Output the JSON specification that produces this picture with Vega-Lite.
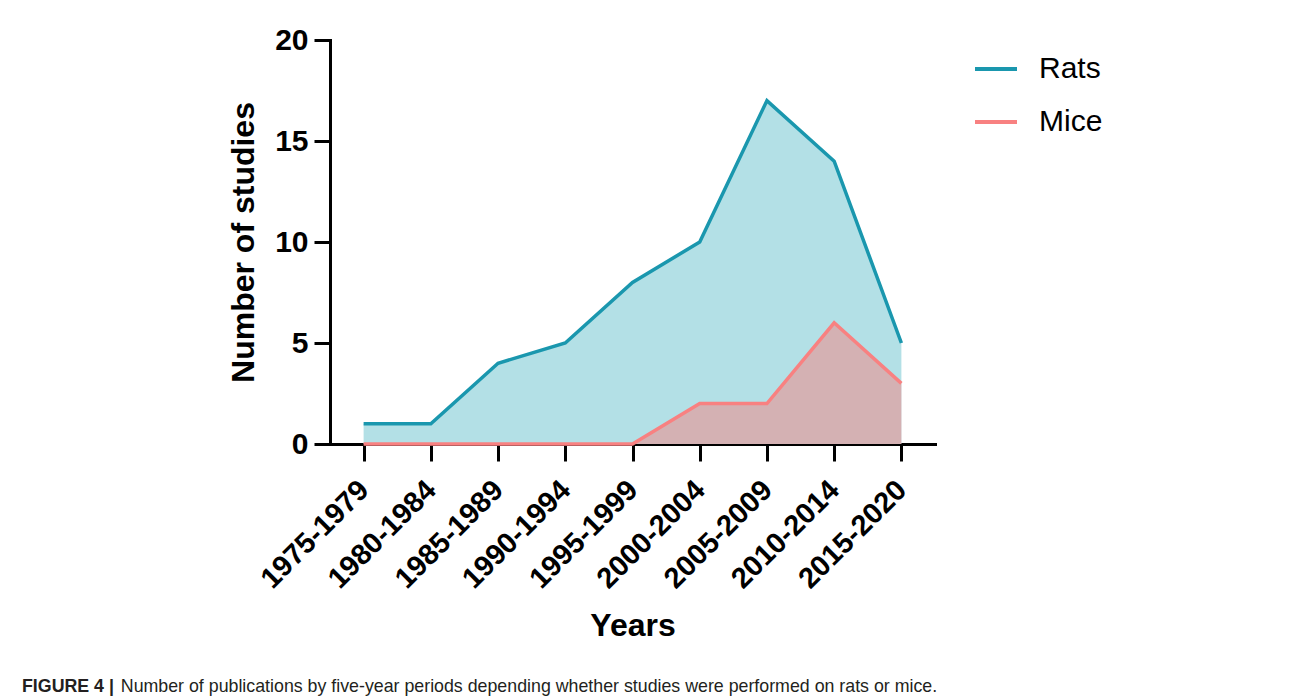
{
  "$schema": "https://vega.github.io/schema/vega-lite/v6.json",
  "width": 605,
  "height": 404,
  "autosize": "none",
  "padding": {"left": 330, "top": 40, "right": 381, "bottom": 255},
  "background": "white",
  "data": {
    "values": [
      {"period": "1975-1979", "species": "Rats", "count": 1},
      {"period": "1980-1984", "species": "Rats", "count": 1},
      {"period": "1985-1989", "species": "Rats", "count": 4},
      {"period": "1990-1994", "species": "Rats", "count": 5},
      {"period": "1995-1999", "species": "Rats", "count": 8},
      {"period": "2000-2004", "species": "Rats", "count": 10},
      {"period": "2005-2009", "species": "Rats", "count": 17},
      {"period": "2010-2014", "species": "Rats", "count": 14},
      {"period": "2015-2020", "species": "Rats", "count": 5},
      {"period": "1975-1979", "species": "Mice", "count": 0},
      {"period": "1980-1984", "species": "Mice", "count": 0},
      {"period": "1985-1989", "species": "Mice", "count": 0},
      {"period": "1990-1994", "species": "Mice", "count": 0},
      {"period": "1995-1999", "species": "Mice", "count": 0},
      {"period": "2000-2004", "species": "Mice", "count": 2},
      {"period": "2005-2009", "species": "Mice", "count": 2},
      {"period": "2010-2014", "species": "Mice", "count": 6},
      {"period": "2015-2020", "species": "Mice", "count": 3}
    ]
  },
  "title": {
    "text": "FIGURE 4 |",
    "subtitle": "\u200b\u00a0\u00a0\u00a0\u00a0\u00a0\u00a0\u00a0\u00a0\u00a0\u00a0\u00a0\u00a0\u00a0\u00a0\u00a0\u00a0\u00a0\u00a0\u00a0\u00a0Number of publications by five-year periods depending whether studies were performed on rats or mice.",
    "orient": "bottom",
    "anchor": "start",
    "frame": "group",
    "dx": -308,
    "offset": 36,
    "font": "Liberation Sans",
    "fontSize": 17.8,
    "fontWeight": "bold",
    "color": "#231f20",
    "subtitleFont": "Liberation Sans",
    "subtitleFontSize": 17.8,
    "subtitleFontWeight": "normal",
    "subtitleColor": "#231f20",
    "subtitlePadding": -17.8
  },
  "encoding": {
    "x": {
      "field": "period",
      "type": "ordinal",
      "sort": null,
      "scale": {"type": "point", "padding": 0.5},
      "axis": {
        "title": "Years",
        "labelAngle": -45,
        "labelAlign": "right",
        "labelBaseline": "middle",
        "labelFontSize": 29,
        "labelPadding": 24,
        "tickSize": 17,
        "titleFontSize": 32,
        "titlePadding": 17
      }
    },
    "y": {
      "field": "count",
      "type": "quantitative",
      "scale": {"domain": [0, 20], "nice": false},
      "axis": {
        "title": "Number of studies",
        "values": [0, 5, 10, 15, 20],
        "labelFontSize": 30,
        "labelPadding": 6,
        "tickSize": 16,
        "titleFontSize": 32,
        "titlePadding": 14
      }
    }
  },
  "layer": [
    {
      "transform": [{"filter": "datum.species === 'Rats'"}],
      "mark": {"type": "area", "color": "#b3e0e6", "opacity": 1}
    },
    {
      "transform": [{"filter": "datum.species === 'Mice'"}],
      "mark": {"type": "area", "color": "#f6827f", "opacity": 0.5}
    },
    {
      "mark": {"type": "line", "strokeWidth": 3.5},
      "encoding": {
        "color": {
          "field": "species",
          "type": "nominal",
          "sort": ["Rats", "Mice"],
          "scale": {"domain": ["Rats", "Mice"], "range": ["#1a97ae", "#f88181"]},
          "legend": {
            "title": null,
            "orient": "none",
            "legendX": 643,
            "legendY": 6,
            "symbolType": "stroke",
            "symbolSize": 1764,
            "symbolStrokeWidth": 4,
            "labelFontSize": 30,
            "labelFont": "Liberation Sans",
            "labelColor": "black",
            "labelOffset": 20,
            "rowPadding": 15
          }
        }
      }
    }
  ],
  "config": {
    "view": {"stroke": null},
    "axis": {
      "grid": false,
      "domainColor": "black",
      "domainWidth": 3,
      "tickColor": "black",
      "tickWidth": 3,
      "labelColor": "black",
      "labelFont": "Liberation Sans",
      "labelFontWeight": "bold",
      "titleColor": "black",
      "titleFont": "Liberation Sans",
      "titleFontWeight": "bold",
      "domainCap": "square"
    }
  }
}
